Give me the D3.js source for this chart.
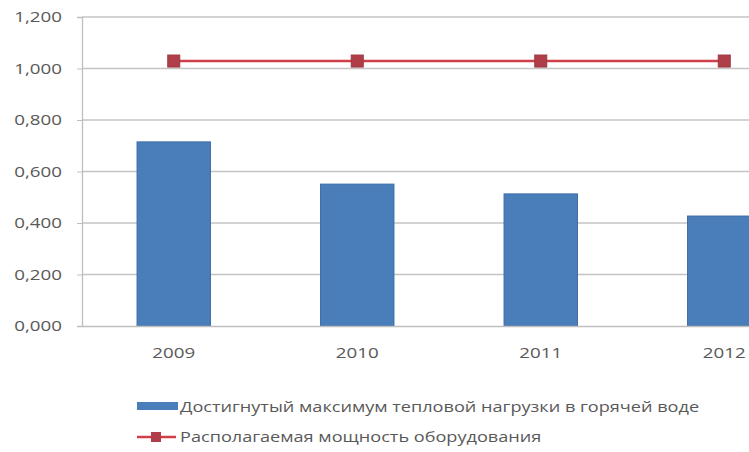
<!DOCTYPE html>
<html>
<head>
<meta charset="utf-8">
<script src="https://cdn.jsdelivr.net/npm/d3@7"></script>
<style>
  html, body { margin: 0; padding: 0; background: #fff; overflow: hidden; }
  text { font-family: "Open Sans", "Liberation Sans", sans-serif; fill: #595959; }
</style>
</head>
<body>
<svg id="chart" width="749" height="452"></svg>
<script>
const years = ["2009", "2010", "2011", "2012"];
const peakLoad = [0.715, 0.551, 0.513, 0.427];
const capacity = [1.029, 1.029, 1.029, 1.029];
const yTicks = [0, 0.2, 0.4, 0.6, 0.8, 1.0, 1.2];
const seriesNames = [
  "Достигнутый максимум тепловой нагрузки в горячей воде",
  "Располагаемая мощность оборудования"
];

const svg = d3.select("#chart");
const plotLeft = 82, plotRight = 816, plotTop = 17, plotBottom = 326;
const stretch = 1.25; // wide lettering

const x = d3.scaleBand().domain(years).range([plotLeft, plotRight]).paddingInner(0.6).paddingOuter(0.3);
const xc = d => x(d) + x.bandwidth() / 2;
const y = d3.scaleLinear().domain([0, 1.2]).range([plotBottom, plotTop]);

const fmt = v => d3.format(".3f")(v).replace(".", ",");

// horizontal gridlines
svg.append("g").selectAll("line").data(yTicks.slice(1)).join("line")
  .attr("x1", plotLeft).attr("x2", plotRight)
  .attr("y1", d => y(d)).attr("y2", d => y(d))
  .attr("stroke", "#c4c4c4").attr("stroke-width", 1.3);

// bars
svg.append("g").selectAll("rect").data(peakLoad).join("rect")
  .attr("x", (d, i) => x(years[i]))
  .attr("width", x.bandwidth())
  .attr("y", d => y(d))
  .attr("height", d => plotBottom - y(d))
  .attr("fill", "#4a7ebb")
  .attr("stroke", "#3d6ba3").attr("stroke-width", 1);

// y axis
const yAxis = d3.axisLeft(y).tickValues(yTicks).tickFormat(fmt).tickSize(5);
const gy = svg.append("g").attr("transform", `translate(${plotLeft},0)`).call(yAxis);
gy.select(".domain").attr("stroke", "#bfbfbf").attr("stroke-width", 1.3);
gy.selectAll(".tick line").attr("stroke", "#bfbfbf");
gy.selectAll(".tick text")
  .style("font-size", "15px").attr("fill", "#555")
  .attr("x", -20 / stretch)
  .attr("transform", `scale(${stretch},1)`);

// x axis
const xAxis = d3.axisBottom(x).tickSize(0).tickPadding(21);
const gx = svg.append("g").attr("transform", `translate(0,${plotBottom})`).call(xAxis);
gx.select(".domain").attr("stroke", "#bfbfbf").attr("stroke-width", 1.3);
gx.selectAll(".tick text")
  .style("font-size", "15px").attr("fill", "#555")
  .attr("transform", `scale(${stretch},1)`);

// capacity line
const line = d3.line().x((d, i) => xc(years[i])).y(d => y(d));
svg.append("path").datum(capacity)
  .attr("d", line).attr("fill", "none")
  .attr("stroke", "#d0404a").attr("stroke-width", 2.5);
svg.append("g").selectAll("rect").data(capacity).join("rect")
  .attr("x", (d, i) => xc(years[i]) - 6)
  .attr("y", d => y(d) - 6)
  .attr("width", 12).attr("height", 12)
  .attr("fill", "#b03e48").attr("stroke", "#9c3840");

// legend
const lg = svg.append("g");
lg.append("rect").attr("x", 137).attr("y", 402).attr("width", 41).attr("height", 8).attr("fill", "#4a7ebb");
lg.append("text").attr("transform", `translate(180,412) scale(${stretch},1)`)
  .style("font-size", "14.5px").attr("fill", "#404040").text(seriesNames[0]);
lg.append("line").attr("x1", 137).attr("x2", 176).attr("y1", 437).attr("y2", 437)
  .attr("stroke", "#d0404a").attr("stroke-width", 2.5);
lg.append("rect").attr("x", 151).attr("y", 432).attr("width", 10).attr("height", 10).attr("fill", "#b03e48");
lg.append("text").attr("transform", `translate(180,442) scale(${stretch},1)`)
  .style("font-size", "14.5px").attr("fill", "#404040").text(seriesNames[1]);
</script>
</body>
</html>
